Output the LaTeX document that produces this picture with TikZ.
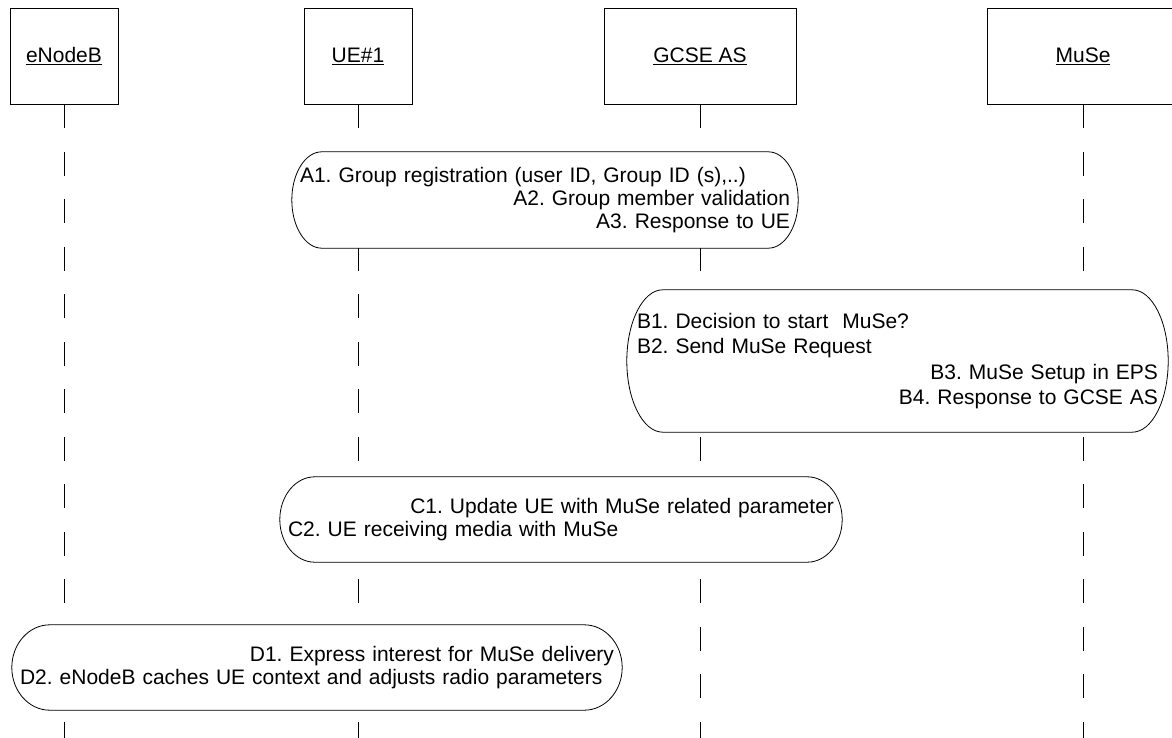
\documentclass[tikz,border=0pt]{standalone}
\usepackage{fontspec}
\setmainfont{Liberation Sans}
\frenchspacing
\usetikzlibrary{calc}

\newcommand\capsule[2][30]{%
  \draw[line width=0.8pt] let \p1=(#2.north west), \p2=(#2.south east), \n1={(\y1-\y2)/2} in
    (\x1+#1pt,\y1) -- (\x2-#1pt,\y1)
    arc[start angle=90,end angle=-90,x radius=#1pt,y radius=\n1]
    -- (\x1+#1pt,\y2)
    arc[start angle=270,end angle=90,x radius=#1pt,y radius=\n1] -- cycle;}

\begin{document}
\begin{tikzpicture}[x=1pt,y=1pt,
  every node/.style={font=\fontsize{21}{23}\selectfont},
  entity/.style={draw,line width=0.8pt,minimum height=96pt,inner sep=0pt},
  lifeline/.style={line width=0.8pt,dash pattern=on 24pt off 23.5pt},
  procbox/.style={fill=white,inner xsep=8pt,inner ysep=0pt,align=left}]
  \useasboundingbox (0,0) rectangle (1172,-738);

  \node[entity,minimum width=108pt] (enb) at (64,-56) {\underline{eNodeB}};
  \node[entity,minimum width=108pt] (ue) at (358,-56) {\underline{UE\#1}};
  \node[entity,minimum width=192pt] (gcse) at (700,-56) {\underline{GCSE AS}};
  \node[entity,minimum width=192pt] (muse) at (1083,-56) {\underline{MuSe}};

  \coordinate (enbend) at (64,-738);
  \coordinate (ueend) at (358,-738);
  \coordinate (gcseend) at (700,-738);
  \coordinate (museend) at (1083,-738);
  \draw[lifeline] (enb.south) -- (enbend);
  \draw[lifeline] (ue.south) -- (ueend);
  \draw[lifeline] (gcse.south) -- (gcseend);
  \draw[lifeline] (muse.south) -- (museend);

  \node[procbox,text width=490pt,minimum height=96pt] (grpreg) at (545,-200)
    {A1. Group registration (user ID, Group ID (s),..)\\
     \hspace*{\fill}A2. Group member validation\\
     \hspace*{\fill}A3. Response to UE};
  \capsule{grpreg}

  \node[procbox,font=\fontsize{21}{25.5}\selectfont,inner xsep=10pt,
        text width=521pt,minimum height=142pt] (musestart) at (897.5,-361)
    {B1. Decision to start\ \ MuSe?\\
     B2. Send MuSe Request\\
     \hspace*{\fill}B3. MuSe Setup in EPS\\
     \hspace*{\fill}B4. Response to GCSE AS};
  \capsule[36]{musestart}

  \node[procbox,text width=546pt,minimum height=85pt] (mediarx) at (561,-519.5)
    {\hspace*{\fill}C1. Update UE with MuSe related parameter\\
     C2. UE receiving media with MuSe};
  \capsule[35]{mediarx}

  \node[procbox,text width=594pt,minimum height=85pt] (enbcache) at (317,-667.5)
    {\hspace*{\fill}D1. Express interest for MuSe delivery\\
     D2. eNodeB caches UE context and adjusts radio parameters};
  \capsule[38]{enbcache}
\end{tikzpicture}
\end{document}
